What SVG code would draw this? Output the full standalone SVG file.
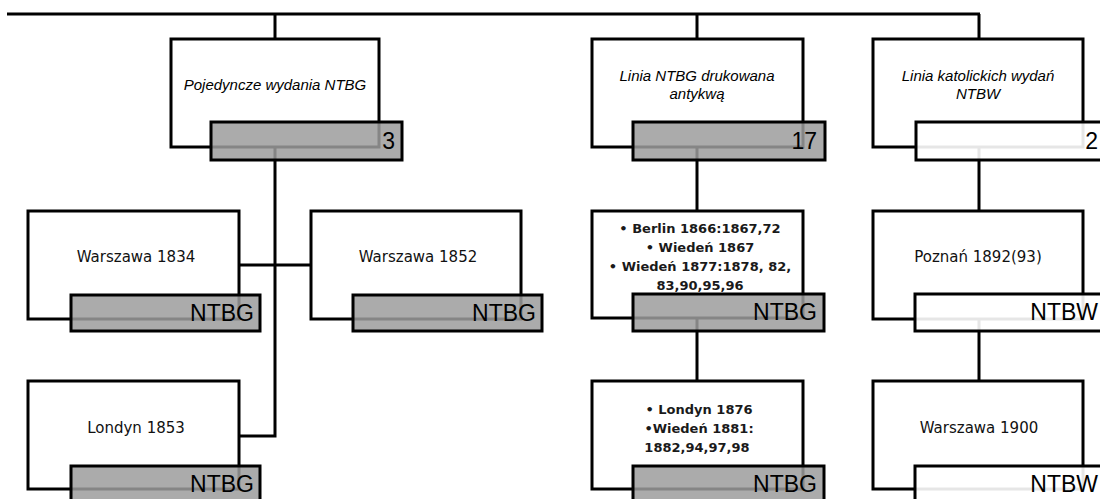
<svg xmlns="http://www.w3.org/2000/svg" width="1100" height="499" viewBox="0 0 1100 499">
<style>
.box{fill:#fff;stroke:#000;stroke-width:3}
.lab{stroke:#000;stroke-width:3}
.g{fill:#9c9c9c;fill-opacity:0.85}
.w{fill:#fff;fill-opacity:0.9}
.con{fill:none;stroke:#000;stroke-width:3}
.it{font-family:"Liberation Sans",Arial,sans-serif;font-style:italic;font-size:15px;fill:#000;text-anchor:middle}
.t{font-family:"DejaVu Sans",Verdana,sans-serif;font-size:15px;fill:#111;text-anchor:middle}
.b{font-family:"DejaVu Sans",Verdana,sans-serif;font-weight:bold;font-size:13px;fill:#1a1a1a;text-anchor:middle}
.lt{font-family:"Liberation Sans",Arial,sans-serif;font-size:23px;fill:#000;text-anchor:end}
</style>
<rect width="1100" height="499" fill="#fff"/>
<g id="connectors">
<path class="con" d="M7 14H980M275 14V39M697 14V39M979 14V39"/>
<path class="con" d="M275 147V436H239M239 265H311"/>
<path class="con" d="M697 147V211M697 318V381"/>
<path class="con" d="M979 147V211M979 319V381"/>
</g>
<g id="n-pojedyncze">
<rect class="box" x="171" y="39" width="208" height="108"/>
<rect class="lab g" x="211" y="122" width="191" height="38"/>
<text class="it" x="275" y="90">Pojedyncze wydania NTBG</text>
<text class="lt" x="395" y="149">3</text>
</g>
<g id="n-antykwa">
<rect class="box" x="592" y="39" width="211" height="108"/>
<rect class="lab g" x="633" y="122" width="192" height="38"/>
<text class="it" x="697" y="81">Linia NTBG drukowana</text>
<text class="it" x="697" y="99">antykwą</text>
<text class="lt" x="817" y="149">17</text>
</g>
<g id="n-katolickie">
<rect class="box" x="873" y="39" width="210" height="108"/>
<rect class="lab w" x="916" y="122" width="192" height="38"/>
<text class="it" x="978" y="81">Linia katolickich wydań</text>
<text class="it" x="978" y="99">NTBW</text>
<text class="lt" x="1098" y="149">2</text>
</g>
<g id="n-warszawa1834">
<rect class="box" x="28" y="211" width="211" height="108"/>
<rect class="lab g" x="71" y="295" width="189" height="36"/>
<text class="t" x="136" y="262">Warszawa 1834</text>
<text class="lt" x="254" y="321">NTBG</text>
</g>
<g id="n-warszawa1852">
<rect class="box" x="311" y="211" width="210" height="108"/>
<rect class="lab g" x="353" y="295" width="189" height="36"/>
<text class="t" x="418" y="262">Warszawa 1852</text>
<text class="lt" x="536" y="321">NTBG</text>
</g>
<g id="n-londyn1853">
<rect class="box" x="28" y="381" width="211" height="108"/>
<rect class="lab g" x="71" y="466" width="189" height="40"/>
<text class="t" x="136" y="433">Londyn 1853</text>
<text class="lt" x="254" y="492">NTBG</text>
</g>
<g id="n-berlin">
<rect class="box" x="592" y="211" width="211" height="107"/>
<rect class="lab g" x="633" y="294" width="191" height="37"/>
<text class="b" x="700" y="233">• Berlin 1866:1867,72</text>
<text class="b" x="700" y="252">• Wiedeń 1867</text>
<text class="b" x="700" y="271">• Wiedeń 1877:1878, 82,</text>
<text class="b" x="700" y="290">83,90,95,96</text>
<text class="lt" x="817" y="320">NTBG</text>
</g>
<g id="n-londyn1876">
<rect class="box" x="592" y="381" width="211" height="108"/>
<rect class="lab g" x="633" y="466" width="191" height="40"/>
<text class="b" x="699" y="414">• Londyn 1876</text>
<text class="b" x="699" y="433">•Wiedeń 1881:</text>
<text class="b" x="697" y="452">1882,94,97,98</text>
<text class="lt" x="817" y="492">NTBG</text>
</g>
<g id="n-poznan">
<rect class="box" x="873" y="211" width="210" height="108"/>
<rect class="lab w" x="915" y="294" width="193" height="37"/>
<text class="t" x="978" y="262">Poznań 1892(93)</text>
<text class="lt" x="1098" y="320">NTBW</text>
</g>
<g id="n-warszawa1900">
<rect class="box" x="873" y="381" width="210" height="108"/>
<rect class="lab w" x="915" y="466" width="193" height="40"/>
<text class="t" x="979" y="433">Warszawa 1900</text>
<text class="lt" x="1098" y="492">NTBW</text>
</g>
</svg>
